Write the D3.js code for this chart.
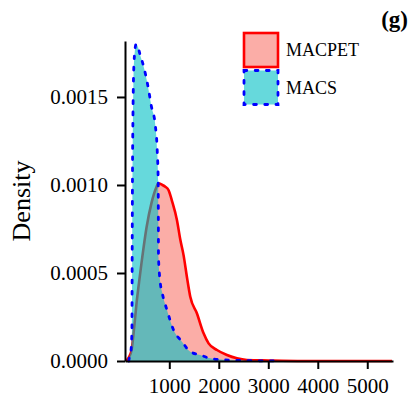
<!DOCTYPE html>
<html>
<head>
<meta charset="utf-8">
<script src="https://d3js.org/d3.v7.min.js"></script>
<style>
  body { margin: 0; background: #fff; }
  svg text { font-family: "Liberation Serif", "Times New Roman", serif; fill: #000; }
</style>
</head>
<body>
<script>
// density curves
var macpetX = [125, 180, 238, 290, 339, 390, 440, 541, 642, 743, 778, 860, 919, 986, 1054, 1155, 1222, 1289, 1360, 1424, 1559, 1693, 1794, 1963, 2165, 2367, 2569, 3000, 3700, 5500];
var macpetY = [0, 0.00002, 0.0000625, 0.00019, 0.00033, 0.00045, 0.00056, 0.00076, 0.0009, 0.00099, 0.00101, 0.001, 0.00099, 0.00097, 0.00091, 0.0008, 0.00069, 0.0006, 0.00047, 0.000365, 0.00027, 0.000157, 0.0001, 0.0000625, 0.000034, 0.000015, 0.000006, 0.000003, 0, 0];

var macsX = [180, 200, 226, 245, 250, 256, 266, 276, 300, 330, 360, 410, 475, 576, 636, 717, 757, 776, 779, 782, 812, 858, 953, 1087, 1256, 1424, 1626, 1828, 2131, 2600, 3200];
var macsY = [0, 0.00003, 0.00006, 0.00018, 0.0006, 0.00104, 0.0014, 0.0016, 0.00175, 0.0018, 0.00179, 0.00174, 0.00168, 0.00155, 0.00145, 0.00134, 0.00119, 0.00102, 0.0008, 0.00059, 0.00046, 0.000386, 0.00029, 0.000176, 0.00011, 0.000053, 0.000034, 0.000015, 0.000006, 0.000002, 0];

var xTicks = [1000, 2000, 3000, 4000, 5000];
var yTicks = [0, 0.0005, 0.0010, 0.0015];
var seriesNames = ["MACPET", "MACS"];

var width = 413, height = 397;

var svg = d3.select("body").append("svg")
    .attr("width", width)
    .attr("height", height);

var x = d3.scaleLinear().domain([105, 5520]).range([125, 393]);
var y = d3.scaleLinear().domain([0, 0.001818]).range([361, 41]);

var area = d3.area()
    .x(d => x(d[0]))
    .y0(y(0))
    .y1(d => y(d[1]))
    .curve(d3.curveMonotoneX);
var line = d3.line()
    .x(d => x(d[0]))
    .y(d => y(d[1]))
    .curve(d3.curveMonotoneX);

var macpet = d3.zip(macpetX, macpetY);
var macs = d3.zip(macsX, macsY);

// MACPET first, MACS on top of it
svg.append("path").attr("d", area(macpet))
    .attr("fill", "#F8766D").attr("fill-opacity", 0.6);
svg.append("path").attr("d", line(macpet))
    .attr("fill", "none").attr("stroke", "#FF0000").attr("stroke-width", 2.6)
    .attr("stroke-linejoin", "round");

svg.append("path").attr("d", area(macs))
    .attr("fill", "#00BFC4").attr("fill-opacity", 0.6);
svg.append("path").attr("d", line(macs))
    .attr("fill", "none").attr("stroke", "#0000FF").attr("stroke-width", 2.8)
    .attr("stroke-dasharray", "2.8 8.4").attr("stroke-linecap", "round");

// axes
var yAxis = svg.append("g")
    .attr("transform", "translate(125,0)")
    .call(d3.axisLeft(y).tickValues(yTicks).tickFormat(d3.format(".4f"))
      .tickSize(8).tickPadding(9).tickSizeOuter(0));
var xAxis = svg.append("g")
    .attr("transform", "translate(0,361)")
    .call(d3.axisBottom(x).tickValues(xTicks).tickFormat(d3.format("d"))
      .tickSize(8).tickPadding(9).tickSizeOuter(0));

[xAxis, yAxis].forEach(function(g) {
  g.selectAll("path, line").attr("stroke", "#000").attr("stroke-width", 2);
  g.selectAll("text").attr("font-size", 21)
    .style("font-family", '"Liberation Serif", serif');
});

svg.append("text")
    .attr("transform", "translate(29.5,201) rotate(-90)")
    .attr("text-anchor", "middle")
    .attr("font-size", 26)
    .text("Density");

// legend
var legend = svg.append("g");
var keyFill = ["#F8766D", "#00BFC4"];
var keyStroke = ["#FF0000", "#0000FF"];
seriesNames.forEach(function(name, i) {
  var top = 33 + i * 37.5;
  var r = legend.append("rect")
      .attr("x", 244).attr("y", top)
      .attr("width", 34).attr("height", 34)
      .attr("fill", keyFill[i]).attr("fill-opacity", 0.6)
      .attr("stroke", keyStroke[i]).attr("stroke-width", i ? 2.8 : 2.6);
  if (i) r.attr("stroke-dasharray", "2.8 8.4").attr("stroke-linecap", "round");
  legend.append("text")
      .attr("x", 286).attr("y", top + 23)
      .attr("font-size", 18)
      .text(name);
});

svg.append("text")
    .attr("x", 408).attr("y", 27)
    .attr("text-anchor", "end")
    .attr("font-size", 23)
    .attr("font-weight", "bold")
    .text("(g)");
</script>
</body>
</html>
